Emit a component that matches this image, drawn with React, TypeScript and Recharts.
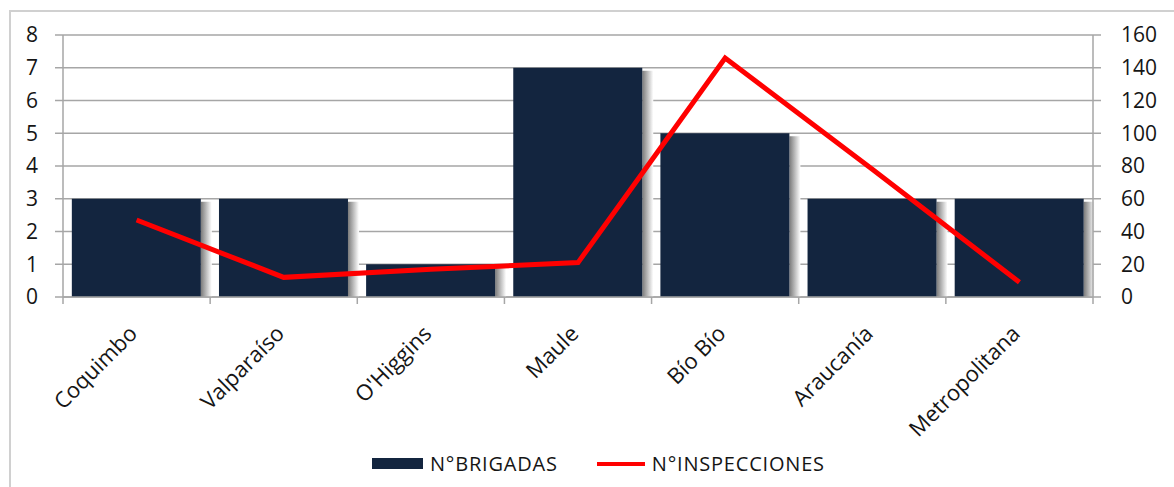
import { ComposedChart, Bar, Line, XAxis, YAxis, CartesianGrid } from 'recharts';

const regions = ['Coquimbo', 'Valparaíso', "O'Higgins", 'Maule', 'Bío Bío', 'Araucanía', 'Metropolitana'];
const brigadas = [3, 3, 1, 7, 5, 3, 3];
const inspecciones = [47, 12, 17, 21, 146, 78, 9];
const leftTicks = [0, 1, 2, 3, 4, 5, 6, 7, 8];
const rightTicks = [0, 20, 40, 60, 80, 100, 120, 140, 160];
const barName = 'N°BRIGADAS';
const lineName = 'N°INSPECCIONES';

const W = 1174;
const H = 487;
const LEFT_W = 63;
const RIGHT_W = 81;
const BAND = (W - LEFT_W - RIGHT_W) / regions.length;
const FONT = '"Open Sans", sans-serif';
const GRID = '#a6a6a6';
const TEXT = '#151515';

const data = regions.map((name, i) => ({ name, brigadas: brigadas[i], inspecciones: inspecciones[i] }));

const ShadowBar = (props: any) => {
  const { x, y, width, height, fill } = props;
  if (!height) return null;
  return (
    <g>
      <rect x={x + width} y={y + 3} width={11} height={height - 3} fill="url(#barShadow)" />
      <rect x={x} y={y} width={width} height={height} fill={fill} />
    </g>
  );
};

const CategoryTick = (props: any) => {
  const { x, y, payload, index } = props;
  const left = x - BAND / 2;
  const tx = x + 2;
  const ty = y + 38;
  return (
    <g>
      <line x1={left} y1={y} x2={left} y2={y + 7} stroke={GRID} strokeWidth={1.5} />
      {index === regions.length - 1 && (
        <line x1={x + BAND / 2} y1={y} x2={x + BAND / 2} y2={y + 7} stroke={GRID} strokeWidth={1.5} />
      )}
      <text
        x={tx}
        y={ty}
        transform={`rotate(-45, ${tx}, ${ty})`}
        textAnchor="end"
        fontSize={22}
        fontFamily={FONT}
        fill={TEXT}
      >
        {payload.value}
      </text>
    </g>
  );
};

const App = () => {
  return (
    <div style={{ position: 'absolute', left: 0, top: 0, width: W, height: H, background: '#fff', overflow: 'hidden' }}>
      <div
        style={{
          position: 'absolute',
          left: 9,
          top: 10,
          width: W,
          height: H,
          borderTop: '2px solid #d0d0d0',
          borderLeft: '2px solid #d0d0d0',
        }}
      />
      <ComposedChart
        width={W}
        height={H}
        data={data}
        margin={{ top: 35, right: 0, left: 0, bottom: 0 }}
        barCategoryGap="6%"
        style={{ position: 'absolute', left: 0, top: 0 }}
      >
        <defs>
          <linearGradient id="barShadow" x1="0" y1="0" x2="1" y2="0">
            <stop offset="0%" stopColor="#7a7a7a" />
            <stop offset="100%" stopColor="#ffffff" />
          </linearGradient>
        </defs>
        <CartesianGrid yAxisId="left" vertical={false} stroke={GRID} strokeWidth={1.5} />
        <XAxis
          dataKey="name"
          height={H - 297}
          interval={0}
          tickLine={false}
          tickSize={0}
          tickMargin={0}
          axisLine={{ stroke: GRID, strokeWidth: 1.5 }}
          tick={<CategoryTick />}
        />
        <YAxis
          yAxisId="left"
          width={LEFT_W}
          domain={[0, 8]}
          ticks={leftTicks}
          interval={0}
          tickSize={8}
          tickMargin={17}
          axisLine={{ stroke: GRID, strokeWidth: 1.5 }}
          tickLine={{ stroke: GRID, strokeWidth: 1.5 }}
          tick={{ fontSize: 21, fontFamily: FONT, fill: TEXT }}
        />
        <YAxis
          yAxisId="right"
          orientation="right"
          width={RIGHT_W}
          domain={[0, 160]}
          ticks={rightTicks}
          interval={0}
          tickSize={8}
          tickMargin={20}
          axisLine={{ stroke: GRID, strokeWidth: 1.5 }}
          tickLine={{ stroke: GRID, strokeWidth: 1.5 }}
          tick={{ fontSize: 21, fontFamily: FONT, fill: TEXT, textAnchor: 'start' }}
        />
        <Bar
          yAxisId="left"
          dataKey="brigadas"
          name={barName}
          fill="#13253f"
          shape={<ShadowBar />}
          isAnimationActive={false}
        />
        <Line
          yAxisId="right"
          dataKey="inspecciones"
          name={lineName}
          type="linear"
          stroke="#ff0000"
          strokeWidth={5}
          dot={false}
          activeDot={false}
          isAnimationActive={false}
        />
      </ComposedChart>
      <div
        style={{
          position: 'absolute',
          top: 450,
          left: 372,
          display: 'flex',
          alignItems: 'center',
          fontFamily: FONT,
          fontSize: 20,
          color: TEXT,
          whiteSpace: 'nowrap',
        }}
      >
        <span style={{ display: 'inline-block', width: 51, height: 11, background: '#13253f', marginRight: 7 }} />
        <span style={{ letterSpacing: 0.8 }}>{barName}</span>
        <span style={{ display: 'inline-block', width: 48, height: 4, background: '#ff0000', marginLeft: 39, marginRight: 7 }} />
        <span style={{ letterSpacing: 0.8 }}>{lineName}</span>
      </div>
    </div>
  );
};

export default App;
